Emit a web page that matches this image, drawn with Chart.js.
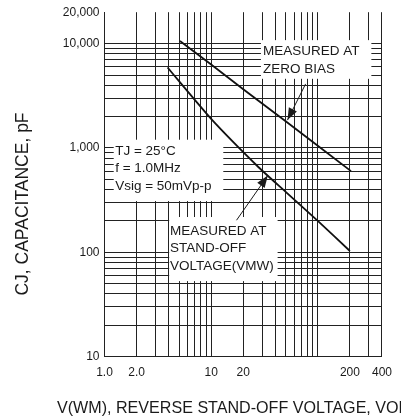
<!DOCTYPE html>
<html>
<head>
<meta charset="utf-8">
<script src="https://cdn.jsdelivr.net/npm/chart.js@4.4.1/dist/chart.umd.min.js"></script>
<style>
  html, body { margin: 0; padding: 0; background: #fff; }
  #wrap { width: 401px; height: 419px; }
</style>
</head>
<body>
<div id="wrap"><canvas id="capChart"></canvas></div>
<script>
// Curves: reverse voltage (V) vs junction capacitance (pF)
const zeroBiasVolts = [5.1, 10, 20, 50, 100, 205];
const zeroBiasPf = [10600, 6300, 3650, 1800, 1050, 600];
const standOffVolts = [3.9, 10, 28, 50, 100, 200];
const standOffPf = [5900, 1900, 650, 380, 200, 103];

// Grid positions and labelled ticks
const xGrid = [1, 2, 3, 4, 5, 6, 7, 8, 9, 10, 20, 30, 40, 50, 60, 70, 80, 90, 100, 200, 300, 400];
const yGrid = [10, 20, 30, 40, 50, 60, 70, 80, 90, 100, 200, 300, 400, 500, 600, 700, 800, 900,
               1000, 2000, 3000, 4000, 5000, 6000, 7000, 8000, 9000, 10000, 20000];
const xTickValues = [1, 2, 10, 20, 200, 400];
const xTickText = ['1.0', '2.0', '10', '20', '200', '400'];
const yTickValues = [10, 100, 1000, 10000, 20000];
const yTickText = ['10', '100', '1,000', '10,000', '20,000'];

const FONT = "'Liberation Sans', Arial, sans-serif";
const INK = '#1a1a1a';

// White label boxes (in data units) that blank out the grid behind the notes
const noteBoxes = [
    { x0: 1.22, x1: 13, y0: 1200, y1: 310 },
    { x0: 29.3, x1: 318, y0: 10800, y1: 4600 },
    { x0: 4.04, x1: 42, y0: 218, y1: 53 }
];
const noteLines = [
    { text: 'TJ = 25°C', x: 1.26, y: 929 },
    { text: 'f = 1.0MHz', x: 1.26, y: 632 },
    { text: 'Vsig = 50mVp-p', x: 1.26, y: 434 },
    { text: 'MEASURED AT', x: 30.6, y: 8460 },
    { text: 'ZERO BIAS', x: 30.6, y: 5690 },
    { text: 'MEASURED AT', x: 4.12, y: 160 },
    { text: 'STAND-OFF', x: 4.12, y: 109 },
    { text: 'VOLTAGE(VMW)', x: 4.12, y: 73.4 }
];
const arrows = [
    { x0: 76.9, y0: 4110, x1: 52, y1: 1850 },
    { x0: 17.3, y0: 203, x1: 34, y1: 545 }
];

const notesPlugin = {
    id: 'notes',
    beforeDatasetsDraw(chart) {
        const { ctx, scales: { x, y } } = chart;
        ctx.save();
        ctx.fillStyle = '#fff';
        noteBoxes.forEach(b => {
            const l = x.getPixelForValue(b.x0), r = x.getPixelForValue(b.x1);
            const t = y.getPixelForValue(b.y0), btm = y.getPixelForValue(b.y1);
            ctx.fillRect(l, t, r - l, btm - t);
        });
        ctx.restore();
    },
    afterDatasetsDraw(chart) {
        const { ctx, scales: { x, y } } = chart;
        ctx.save();
        ctx.fillStyle = INK;
        ctx.font = `13.5px ${FONT}`;
        ctx.textAlign = 'left';
        ctx.textBaseline = 'middle';
        noteLines.forEach(n => {
            ctx.fillText(n.text, x.getPixelForValue(n.x), y.getPixelForValue(n.y));
        });

        // arrows pointing at the curves
        ctx.strokeStyle = INK;
        ctx.lineWidth = 1;
        arrows.forEach(a => {
            const x0 = x.getPixelForValue(a.x0), y0 = y.getPixelForValue(a.y0);
            const x1 = x.getPixelForValue(a.x1), y1 = y.getPixelForValue(a.y1);
            const ang = Math.atan2(y1 - y0, x1 - x0);
            ctx.beginPath();
            ctx.moveTo(x0, y0);
            ctx.lineTo(x1, y1);
            ctx.stroke();
            ctx.beginPath();
            ctx.moveTo(x1, y1);
            ctx.lineTo(x1 - 12 * Math.cos(ang) + 4.5 * Math.sin(ang), y1 - 12 * Math.sin(ang) - 4.5 * Math.cos(ang));
            ctx.lineTo(x1 - 12 * Math.cos(ang) - 4.5 * Math.sin(ang), y1 - 12 * Math.sin(ang) + 4.5 * Math.cos(ang));
            ctx.closePath();
            ctx.fill();
        });

        // axis titles: the x one runs off the right edge like the original,
        // the y one sits lower than Chart.js would centre it
        ctx.font = `16.1px ${FONT}`;
        ctx.fillText('V(WM), REVERSE STAND-OFF VOLTAGE, VOLTS', 57, 409);

        ctx.font = `17.5px ${FONT}`;
        ctx.textAlign = 'center';
        ctx.translate(23.5, 204);
        ctx.rotate(-Math.PI / 2);
        ctx.fillText('CJ, CAPACITANCE, pF', 0, 0);
        ctx.restore();
    }
};

function gridColor(c) {
    return c.tick && c.tick.value === 20000 ? 'rgba(0,0,0,0)' : '#222';
}

new Chart(document.getElementById('capChart'), {
    type: 'line',
    data: {
        datasets: [
            {
                label: 'Measured at zero bias',
                data: zeroBiasVolts.map((v, i) => ({ x: v, y: zeroBiasPf[i] })),
                borderColor: '#111',
                borderWidth: 1.8,
                pointRadius: 0,
                tension: 0
            },
            {
                label: 'Measured at stand-off voltage',
                data: standOffVolts.map((v, i) => ({ x: v, y: standOffPf[i] })),
                borderColor: '#111',
                borderWidth: 1.8,
                pointRadius: 0,
                tension: 0.2
            }
        ]
    },
    options: {
        responsive: true,
        maintainAspectRatio: false,
        animation: false,
        layout: { padding: { top: 7, right: 15.3, bottom: 0, left: 0 } },
        plugins: {
            legend: { display: false },
            tooltip: { enabled: false }
        },
        scales: {
            x: {
                type: 'logarithmic',
                min: 1,
                max: 400,
                afterBuildTicks: s => { s.ticks = xGrid.map(v => ({ value: v })); },
                afterFit: s => { s.height = 62.3; },
                grid: { color: gridColor, lineWidth: 1, drawTicks: false },
                border: { color: '#222', width: 1 },
                ticks: {
                    autoSkip: false,
                    maxRotation: 0,
                    padding: 9,
                    color: INK,
                    font: { family: FONT, size: 12 },
                    callback: v => {
                        const i = xTickValues.indexOf(v);
                        return i >= 0 ? xTickText[i] : '';
                    }
                }
            },
            y: {
                type: 'logarithmic',
                min: 10,
                max: 20000,
                afterBuildTicks: s => { s.ticks = yGrid.map(v => ({ value: v })); },
                afterFit: s => { s.width = 104.5; },
                grid: { color: gridColor, lineWidth: 1, drawTicks: false },
                border: { color: '#222', width: 1 },
                ticks: {
                    autoSkip: false,
                    padding: 5,
                    color: INK,
                    font: { family: FONT, size: 12 },
                    callback: v => {
                        const i = yTickValues.indexOf(v);
                        return i >= 0 ? yTickText[i] : '';
                    }
                }
            }
        }
    },
    plugins: [notesPlugin]
});
</script>
</body>
</html>
